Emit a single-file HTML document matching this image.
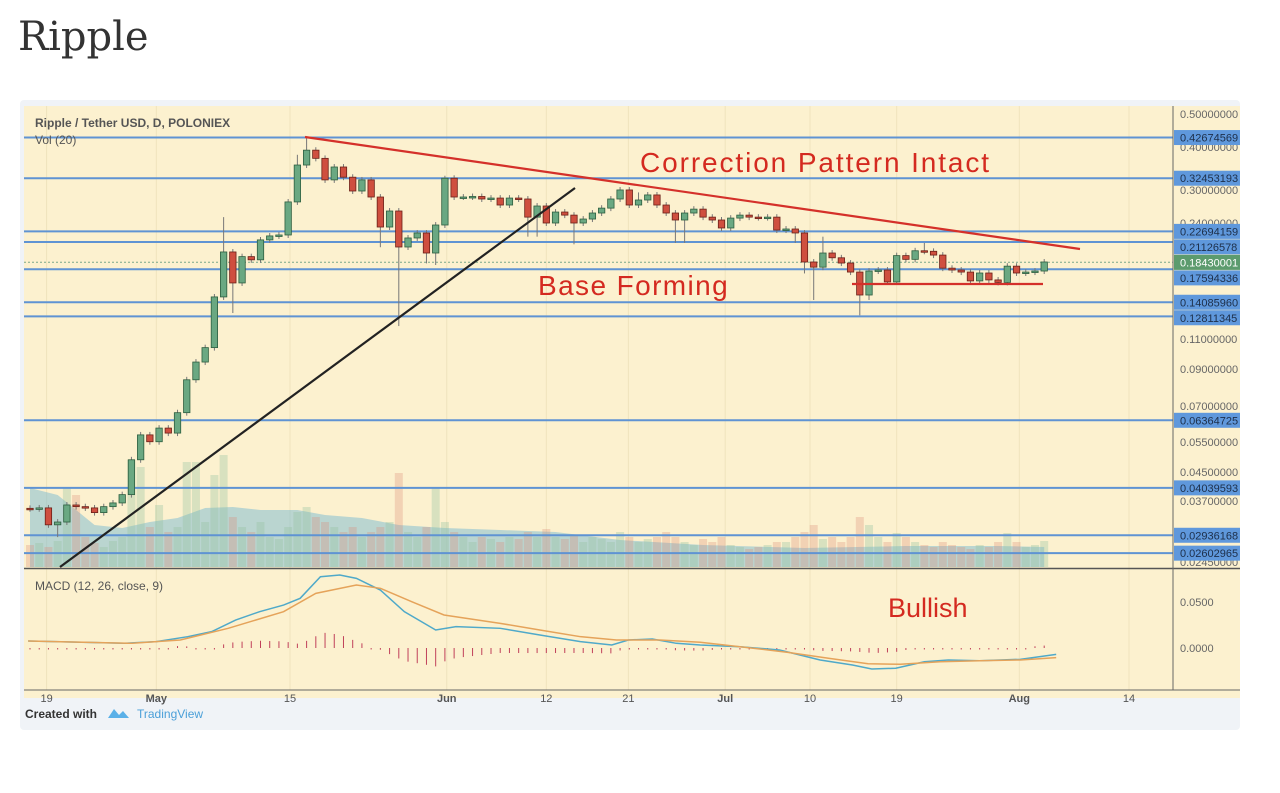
<!DOCTYPE html>
<html><head><meta charset="utf-8"><style>
body{margin:0;background:#fff;width:1280px;height:793px;overflow:hidden;font-family:"Liberation Sans",sans-serif}
svg{position:absolute;left:0;top:0}
</style></head><body>
<svg id="c" width="1280" height="793" xmlns="http://www.w3.org/2000/svg">
<text x="18" y="50" font-family="DejaVu Serif, Liberation Serif, serif" font-size="40" fill="#333">Ripple</text>
<rect x="20" y="100" width="1220" height="630" rx="4" fill="#f0f3f7"/>
<rect x="24" y="106" width="1216" height="592" fill="#fcf1cf"/>
<g id="grid"></g><g id="vol"></g><g id="levels"></g><g id="candles"></g><g id="macd"></g><g id="axes"></g><g id="draw"></g>
<text x="35" y="127" font-size="12" font-weight="bold" fill="#555">Ripple / Tether USD, D, POLONIEX</text>
<text x="35" y="144" font-size="12" fill="#555">Vol (20)</text>
<text x="35" y="590" font-size="12" fill="#555">MACD (12, 26, close, 9)</text>
<text x="640" y="172" font-size="28" fill="#d42a20" letter-spacing="1.9">Correction Pattern Intact</text>
<text x="538" y="295" font-size="28" fill="#d42a20" letter-spacing="1.4">Base Forming</text>
<text x="888" y="617" font-size="27" fill="#d42a20">Bullish</text>
<text x="25" y="718" font-size="12" font-weight="bold" fill="#333">Created with</text>
<path d="M108 718 l6 -9 l5 6 l4 -4 l6 7 z" fill="#5ab0e8"/>
<text x="137" y="718" font-size="12" fill="#4a9fd8">TradingView</text>
</svg>
<script>
const closes=[.0351,.0353,.0315,.0321,.0360,.0356,.0353,.0342,.0356,.0365,.0386,.0488,.0577,.0551,.0604,.0584,.0670,.0836,.0942,.1038,.1460,.1976,.1604,.1915,.1874,.2143,.2201,.2215,.2767,.3547,.3920,.3710,.3209,.3500,.3268,.2978,.3209,.2860,.2337,.2603,.2043,.2171,.2245,.1962,.2369,.3245,.2860,.2860,.2870,.2822,.2840,.2710,.2840,.2822,.2498,.2692,.2401,.2585,.2532,.2401,.2466,.2568,.2654,.2822,.2999,.2710,.2803,.2900,.2710,.2568,.2450,.2568,.2636,.2498,.2450,.2322,.2482,.2532,.2498,.2490,.2498,.2290,.2306,.2245,.1847,.1784,.1962,.1900,.1834,.1726,.1479,.1738,.1750,.1615,.1928,.1880,.1992,.1985,.1935,.1772,.1750,.1726,.1626,.1715,.1637,.1610,.1796,.1715,.1726,.1738,.1847];
const firstOpen=.0352;
const highs={21:.2498,29:.3800,30:.4300,45:.3300,66:.2950,86:.2190,97:.2100};
const lows={3:.0290,22:.1310,40:.1200,38:.2040,43:.1830,44:.1810,54:.2190,55:.2190,59:.2080,70:.2100,71:.2100,83:.2100,84:.1710,85:.1430,90:.1290,91:.1430};
const volumes=[22,24,20,26,79,72,30,24,20,26,30,107,100,40,62,35,40,105,105,45,92,112,50,40,35,45,30,28,40,55,60,50,45,40,35,40,30,35,40,45,94,35,30,40,79,45,35,30,25,30,28,25,30,28,35,30,38,30,28,32,25,30,28,25,35,30,25,28,30,35,30,25,22,28,25,30,22,20,18,20,22,25,25,30,35,42,28,30,25,30,50,42,30,25,34,30,25,22,20,25,22,20,18,22,20,25,34,25,20,22,26];
const volMAIdx=[0,3,5,7,10,13,16,19,22,25,29,32,36,40,45,51,57,64,73,84,95,105,110];
const volMA=[79,72,57,42,39,45,49,59,60,57,57,52,49,42,39,37,35,27,22,19,21,21,20];
const macdIdx=[-0.2,10.2,13.7,17.1,19.7,22.3,24.9,27.5,29.3,31.5,33.6,35.4,38,40.6,44,46.2,51,55.3,59.7,63.1,64.9,67.5,70.1,72.7,77,81.3,85.7,89.2,91.3,93.9,97,99.6,103,107.4,111.3];
const macdVals=[.0076,.0051,.0069,.0123,.0178,.0304,.0395,.0467,.054,.0775,.0793,.0757,.063,.0395,.0196,.0232,.0214,.0141,.0069,.0033,.0087,.0098,.0051,.0033,.0014,-.0022,-.013,-.0185,-.0228,-.022,-.0149,-.013,-.0138,-.0123,-.0069];
const sigIdx=[-0.2,11.1,16.3,21.5,27.5,31,35.4,38,41.4,44.9,51,55.3,59.7,63.6,68.3,72.7,77,82.2,86.6,90.9,94.4,98.7,103,107.4,111.3];
const sigVals=[.0076,.0051,.0087,.0214,.0395,.0594,.0685,.0649,.0503,.0359,.0268,.0196,.0123,.0087,.0087,.0062,.0014,-.0047,-.0112,-.0171,-.0177,-.0149,-.0138,-.013,-.0105];
const priceTicks=[0.5,0.4,0.3,0.24,0.11,0.09,0.07,0.055,0.045,0.037,0.0245];
const levelVals=[0.42674569,0.32453193,0.22694159,0.21126578,0.17594336,0.14085960,0.12811345,0.06364725,0.04039593,0.02936168,0.02602965];
const lastPrice=0.18430001;
const dateLabels=["19","May","15","Jun","12","21","Jul","10","19","Aug","14"];
const dateIdx=[1.8,13.7,28.2,45.2,56.0,64.9,75.4,84.6,94,107.3,119.2];
const macdTicks=[0.05,0];

const NS="http://www.w3.org/2000/svg";
const xOf=i=>30+i*9.22;
const yP=p=>114+148.6*Math.log(0.5/p);
const yV=v=>567-v;
const yM=v=>648-v*920;
function mk(tag,attrs,parent){const e=document.createElementNS(NS,tag);for(const k in attrs)e.setAttribute(k,attrs[k]);document.getElementById(parent).appendChild(e);return e;}
function interp(idx,vals,i){if(i<=idx[0])return vals[0];for(let k=1;k<idx.length;k++){if(i<=idx[k]){const t=(i-idx[k-1])/(idx[k]-idx[k-1]);return vals[k-1]+t*(vals[k]-vals[k-1]);}}return vals[vals.length-1];}

dateIdx.forEach(d=>{const l=mk('line',{x1:xOf(d),x2:xOf(d),y1:106,y2:690,stroke:'#efe3bd','stroke-width':1},'grid');

});

let ad='M'+xOf(volMAIdx[0])+' 567';
volMAIdx.forEach((d,k)=>{ad+=' L'+xOf(d)+' '+yV(volMA[k]);});
ad+=' L'+xOf(volMAIdx[volMAIdx.length-1])+' 567 Z';
const area=mk('path',{d:ad,fill:'rgba(120,185,210,0.5)'},'vol');


volumes.forEach((v,i)=>{const o=i?closes[i-1]:firstOpen;const up=closes[i]>=o;
const r=mk('rect',{x:xOf(i)-4,y:yV(v),width:8,height:v,fill:up?'rgba(150,195,160,0.35)':'rgba(220,140,120,0.3)'},'vol');

});

levelVals.forEach(v=>{const y=yP(v);
const l=mk('line',{x1:24,x2:1173,y1:y,y2:y,stroke:'#5f93d3','stroke-width':2},'levels');

});
const dl=mk('line',{x1:24,x2:1173,y1:yP(lastPrice),y2:yP(lastPrice),stroke:'#7aa88a','stroke-width':1,'stroke-dasharray':'2,2'},'levels');



closes.forEach((c,i)=>{const o=i?closes[i-1]:firstOpen;const up=c>=o;const x=xOf(i);
const hi=highs[i]||Math.max(o,c)*1.02,lo=lows[i]||Math.min(o,c)*0.98;
const w=mk('line',{x1:x,x2:x,y1:yP(hi),y2:yP(lo),stroke:'#777','stroke-width':1},'candles');


const top=yP(Math.max(o,c)),h=Math.max(1.5,yP(Math.min(o,c))-top);
const b=mk('rect',{x:x-3.2,y:top,width:6.4,height:h,fill:up?'#6aa882':'#cf4f3f',stroke:up?'#2d5e3f':'#6b2018','stroke-width':0.8},'candles');

});

const mLines=[[macdIdx,macdVals,'#4fa9c9','macd-line'],[sigIdx,sigVals,'#e5a35a','signal-line']];
for(let i=0;i<closes.length;i++){const h=interp(macdIdx,macdVals,i)-interp(sigIdx,sigVals,i);const y0=yM(0),y1=yM(h);
const bar=mk('line',{x1:xOf(i),x2:xOf(i),y1:y0,y2:Math.abs(y1-y0)<1.5?y0+1.5:y1,stroke:'#c0405a','stroke-width':1},'macd');

}
mLines.forEach(([ix,vs,col,name])=>{const p=mk('polyline',{points:ix.map((d,k)=>xOf(d)+','+yM(vs[k])).join(' '),fill:'none',stroke:col,'stroke-width':1.5},'macd');

});

const sep=mk('line',{x1:24,x2:1240,y1:568.5,y2:568.5,stroke:'#555','stroke-width':1.5},'axes');


const ra=mk('line',{x1:1173,x2:1173,y1:106,y2:690,stroke:'#666','stroke-width':1},'axes');


const ba=mk('line',{x1:24,x2:1240,y1:690,y2:690,stroke:'#666','stroke-width':1},'axes');


priceTicks.forEach(p=>{const t=mk('text',{x:1180,y:yP(p)+4,'font-size':11,fill:'#666'},'axes');t.textContent=p.toFixed(8);

});
// tags with collision avoidance
const tags=levelVals.map(v=>({v,last:false})).concat([{v:lastPrice,last:true}]).sort((a,b)=>b.v-a.v);
let prevY=-100;
tags.forEach(tg=>{let y=yP(tg.v);if(y<prevY+15.5)y=prevY+15.5;prevY=y;
const r=mk('rect',{x:1174,y:y-7.5,width:66,height:15,fill:tg.last?'#5c9b6e':'#5f98dc'},'axes');


const t=mk('text',{x:1180,y:y+4,'font-size':11,fill:tg.last?'#fff':'#1d2f4a'},'axes');t.textContent=tg.v.toFixed(8);

});
macdTicks.forEach(v=>{const t=mk('text',{x:1180,y:yM(v)+4,'font-size':11,fill:'#666'},'axes');t.textContent=v.toFixed(4);

});
dateLabels.forEach((s,k)=>{const t=mk('text',{x:xOf(dateIdx[k]),y:702,'font-size':11,fill:'#555','text-anchor':'middle','font-weight':/^[A-Z]/.test(s)?'bold':'normal'},'axes');t.textContent=s;

});

[[305,137,1080,249,'#d4302a','resistance-trendline'],[60,567,575,188,'#222','support-trendline'],[852,284,1043,284,'#d4302a','base-support-line']].forEach(([a,b,c,d,col,n])=>{
const l=mk('line',{x1:a,y1:b,x2:c,y2:d,stroke:col,'stroke-width':2.2},'draw');

});
</script>
</body></html>
